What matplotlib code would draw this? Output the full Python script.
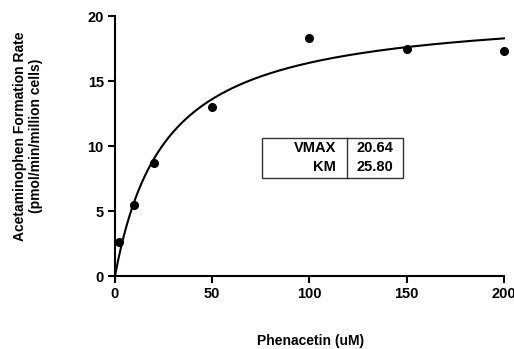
import numpy as np
import matplotlib
matplotlib.use("Agg")
import matplotlib.pyplot as plt
from matplotlib.patches import Rectangle

plt.rcParams['font.family'] = ['Liberation Sans', 'DejaVu Sans']
plt.rcParams['font.weight'] = 'bold'

# data
conc = [2, 10, 20, 50, 100, 150, 200]
rate = [2.6, 5.5, 8.7, 13.0, 18.3, 17.5, 17.3]
param_names = ["VMAX", "KM"]
param_values = [20.64, 25.80]
vmax, km = param_values

fig = plt.figure(figsize=(5.14, 3.49), dpi=100)
ax = fig.add_axes([0.2237, 0.209, 0.7568, 0.745])

xs = np.linspace(0, 200, 400)
ax.plot(xs, vmax * xs / (km + xs), color='black', lw=1.5, clip_on=False)
ax.plot(conc, rate, 'o', color='black', ms=5.5, clip_on=False, zorder=3)

ax.set_xlim(0, 200)
ax.set_ylim(0, 20)
ax.set_xticks([0, 50, 100, 150, 200])
ax.set_yticks([0, 5, 10, 15, 20])
for s in ['top', 'right']:
    ax.spines[s].set_visible(False)
for s in ['left', 'bottom']:
    ax.spines[s].set_linewidth(1.5)
ax.tick_params(direction='out', length=5, width=1.5, labelsize=10.5, pad=3)
for lab in ax.get_xticklabels() + ax.get_yticklabels():
    lab.set_fontweight('bold')

# axis titles placed like the original
fig.text(0.605, 0.022, "Phenacetin (uM)", ha='center', va='center',
         fontsize=10, fontweight='bold')
fig.text(0.054, 0.61, "Acetaminophen Formation Rate\n(pmol/min/million cells)",
         rotation=90, ha='center', va='center', fontsize=10, fontweight='bold',
         multialignment='center')

# parameter box
x0, x1, xd = 0.378, 0.740, 0.596
y0, y1 = 0.377, 0.531
ax.add_patch(Rectangle((x0, y0), x1 - x0, y1 - y0, transform=ax.transAxes,
                       fill=False, lw=1, ec='#333333'))
ax.plot([xd, xd], [y0, y1], transform=ax.transAxes, color='#333333', lw=1)
rows_y = [0.492, 0.419]
for name, val, yy in zip(param_names, param_values, rows_y):
    ax.text(0.568, yy, name, transform=ax.transAxes, ha='right', va='center',
            fontsize=10.5, fontweight='bold')
    ax.text(0.622, yy, f"{val:.2f}", transform=ax.transAxes, ha='left', va='center',
            fontsize=10.5, fontweight='bold')

fig.savefig("out.png", dpi=100)
